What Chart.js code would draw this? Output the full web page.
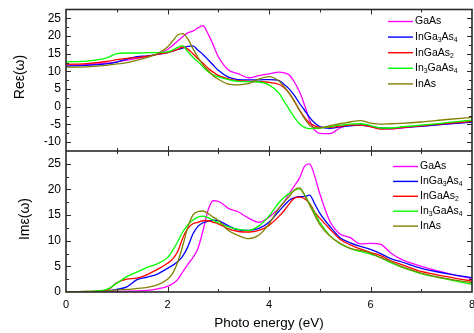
<!DOCTYPE html>
<html>
<head>
<meta charset="utf-8">
<script src="https://cdn.jsdelivr.net/npm/chart.js@4.4.1/dist/chart.umd.min.js"></script>
<style>
  html, body { margin: 0; padding: 0; background: #fff; }
  #wrap { position: relative; width: 474px; height: 333px; }
  #reChart { position: absolute; left: 0; top: 0; }
  #imChart { position: absolute; left: 0; top: 151px; }
</style>
</head>
<body>
<div id="wrap">
  <canvas id="reChart" width="474" height="151"></canvas>
  <canvas id="imChart" width="474" height="182"></canvas>
</div>
<script>
// photon energy grid (eV), shared by every series
const energy = [0, 0.4, 0.8, 1.0, 1.2, 1.4, 1.6, 1.8, 2.0, 2.1, 2.2, 2.3, 2.4, 2.5, 2.6, 2.7, 2.8, 2.9,
                3.0, 3.2, 3.4, 3.6, 3.8, 4.0, 4.2, 4.3, 4.4, 4.5, 4.6, 4.7, 4.8, 4.9,
                5.0, 5.2, 5.4, 5.6, 5.8, 6.0, 6.2, 6.4, 6.6, 7.0, 7.5, 8.0];

// legend names, "_" marks the next char as subscript
const seriesNames = ['GaAs', 'InGa_3As_4', 'InGaAs_2', 'In_3GaAs_4', 'InAs'];
const seriesColors = ['#ff00ff', '#0000ff', '#ff0000', '#00ff00', '#808000'];

// real part Re eps(w)
const reGaAs     = [11.8, 11.9, 12.3, 12.7, 13.2, 13.7, 14.2, 14.9, 16.2, 17.3, 18.6, 19.8, 20.9, 21.4, 22.3, 22.9, 20.6, 17.5,
                    14.2, 10.4, 9.3, 8.2, 8.8, 9.3, 9.8, 9.6, 9.0, 7.0, 4.3, 0.5, -3.8, -6.6,
                    -7.5, -7.6, -6.0, -5.1, -5.2, -5.6, -6.2, -6.3, -6.0, -5.4, -4.8, -4.3];
const reInGa3As4 = [11.5, 11.7, 12.1, 12.6, 13.5, 14.2, 14.4, 14.8, 15.3, 15.7, 16.2, 16.6, 17.1, 17.2, 16.0, 14.8, 13.3, 11.8,
                    10.3, 8.4, 7.7, 7.6, 7.6, 7.7, 7.4, 6.3, 5.0, 3.2, 1.0, -1.0, -3.0, -4.6,
                    -5.6, -6.1, -5.7, -5.4, -5.2, -5.5, -6.0, -6.1, -5.9, -5.5, -4.9, -4.3];
const reInGaAs2  = [12.0, 12.2, 12.8, 13.3, 13.7, 13.9, 14.3, 14.8, 15.3, 15.7, 16.2, 16.9, 16.3, 15.0, 13.6, 12.3, 10.9, 9.8,
                    8.9, 7.9, 7.4, 7.2, 7.1, 6.9, 6.3, 5.4, 3.8, 1.6, -0.9, -3.0, -4.6, -5.4,
                    -5.8, -5.8, -5.5, -5.2, -5.2, -5.6, -6.3, -6.2, -5.9, -5.4, -4.7, -4.1];
const reIn3GaAs4 = [12.7, 12.9, 13.8, 15.0, 15.2, 15.2, 15.3, 15.3, 15.5, 16.0, 16.8, 17.2, 15.6, 14.0, 12.7, 11.3, 9.9, 9.0,
                    8.5, 7.7, 7.2, 7.1, 7.0, 6.2, 3.8, 1.5, -0.8, -3.0, -4.8, -5.8, -6.2, -6.1,
                    -6.0, -5.6, -5.2, -4.9, -4.8, -5.3, -6.0, -6.0, -5.7, -5.2, -4.5, -3.8];
const reInAs     = [11.2, 11.3, 11.7, 12.1, 12.5, 13.2, 14.0, 15.0, 16.9, 18.6, 20.3, 20.7, 19.2, 16.5, 14.0, 11.8, 10.3, 8.8,
                    7.8, 6.4, 6.2, 6.6, 7.8, 8.5, 7.2, 5.6, 3.8, 1.5, -0.9, -3.3, -5.2, -5.9,
                    -6.0, -5.3, -4.8, -4.3, -3.9, -4.6, -4.9, -4.8, -4.7, -4.3, -3.6, -3.0];

// imaginary part Im eps(w)
const imGaAs     = [0, 0, 0.05, 0.1, 0.15, 0.2, 0.3, 0.6, 1.1, 1.6, 2.4, 3.9, 5.4, 6.7, 8.5, 12.0, 16.0, 17.8,
                    17.7, 16.3, 15.6, 14.4, 13.6, 14.6, 16.4, 17.6, 19.2, 20.7, 22.2, 24.5, 25.0, 22.6,
                    19.2, 13.8, 11.3, 10.6, 9.4, 9.5, 9.3, 7.6, 6.4, 5.0, 3.7, 2.6];
const imInGa3As4 = [0, 0.05, 0.2, 0.5, 1.0, 2.4, 2.9, 3.5, 4.6, 5.2, 5.9, 7.0, 8.8, 11.3, 12.8, 13.5, 13.8, 14.0,
                    13.9, 12.9, 12.1, 12.0, 12.4, 13.6, 15.8, 16.9, 17.9, 18.4, 18.6, 18.6, 18.9, 17.2,
                    15.4, 12.8, 10.6, 9.6, 8.9, 8.3, 7.5, 6.5, 5.9, 4.6, 3.6, 2.8];
const imInGaAs2  = [0, 0.1, 0.3, 1.8, 2.5, 2.7, 3.4, 4.4, 5.6, 6.4, 7.9, 10.5, 12.4, 13.3, 13.6, 13.9, 13.9, 13.6,
                    13.3, 12.3, 11.8, 11.7, 12.0, 13.0, 14.8, 15.9, 17.2, 18.3, 18.5, 18.2, 17.3, 15.6,
                    14.4, 12.3, 10.3, 9.2, 8.4, 7.7, 7.1, 6.1, 5.4, 4.0, 3.0, 2.1];
const imIn3GaAs4 = [0, 0.1, 0.5, 1.7, 3.0, 3.9, 4.8, 5.5, 6.7, 8.1, 9.8, 11.7, 13.1, 14.0, 14.6, 14.8, 14.5, 14.0,
                    13.5, 12.7, 12.2, 12.0, 12.9, 14.8, 17.5, 18.5, 19.2, 19.8, 20.1, 19.0, 17.1, 15.4,
                    13.6, 11.0, 9.4, 8.5, 7.9, 7.4, 6.7, 5.7, 4.9, 3.6, 2.5, 1.5];
const imInAs     = [0, 0.05, 0.2, 0.4, 0.5, 0.7, 0.9, 1.4, 2.5, 3.6, 5.8, 9.0, 12.6, 15.0, 15.7, 15.8, 15.3, 14.6,
                    14.0, 12.0, 11.0, 10.4, 11.1, 13.3, 16.4, 17.6, 18.6, 19.9, 20.3, 18.9, 17.0, 15.0,
                    13.2, 10.9, 9.5, 8.5, 8.1, 7.6, 6.7, 5.9, 5.0, 3.7, 2.6, 1.8];

// tick labels and tick marks
const xTickLabels = [0, 2, 4, 6, 8];
const xTickMarks  = [1, 2, 3, 4, 5, 6, 7];
const reTickLabels = [-10, -5, 0, 5, 10, 15, 20, 25];
const reTickMarks  = [-10, -7.5, -5, -2.5, 0, 2.5, 5, 7.5, 10, 12.5, 15, 17.5, 20, 22.5, 25];
const imTickLabels = [0, 5, 10, 15, 20, 25];
const imTickMarks  = [2.5, 5, 7.5, 10, 12.5, 15, 17.5, 20, 22.5, 25];

const FONT = "'Liberation Sans', Arial, sans-serif";

function drawRich(ctx, text, x, y, size) {
    let cx = x;
    for (let i = 0; i < text.length; i++) {
        let ch = text[i], dy = 0, s = size;
        if (ch === '_') { ch = text[++i]; dy = size * 0.3; s = size * 0.65; }
        ctx.font = s + 'px ' + FONT;
        ctx.fillText(ch, cx, y + dy);
        cx += ctx.measureText(ch).width;
    }
}

// frame, inward ticks, legend and titles
const framePlugin = {
    id: 'frame',
    afterDatasetsDraw(chart, args, o) {
        const ctx = chart.ctx, a = chart.chartArea;
        const x = chart.scales.x, y = chart.scales.y;
        const seg = (x1, y1, x2, y2) => { ctx.beginPath(); ctx.moveTo(x1, y1); ctx.lineTo(x2, y2); ctx.stroke(); };
        ctx.save();
        ctx.strokeStyle = '#2a2a2a';
        ctx.lineWidth = 1;
        xTickMarks.forEach(v => {
            const px = Math.round(x.getPixelForValue(v)) + 0.5;
            const len = v % 2 === 0 ? 5 : 3;
            seg(px, a.top, px, a.top + len);
            seg(px, a.bottom, px, a.bottom - len);
        });
        o.yMarks.forEach(v => {
            const py = Math.round(y.getPixelForValue(v)) + 0.5;
            const len = v % 5 === 0 ? 5 : 3;
            seg(a.left, py, a.left + len, py);
            seg(a.right, py, a.right - len, py);
        });
        ctx.lineWidth = 1.6;
        ctx.strokeRect(a.left, a.top, a.right - a.left, a.bottom - a.top);

        // legend
        ctx.textBaseline = 'middle';
        ctx.fillStyle = '#000';
        seriesNames.forEach((name, i) => {
            const ly = o.legendY + i * o.legendStep;
            ctx.strokeStyle = seriesColors[i];
            ctx.lineWidth = 1.4;
            seg(o.legendX, ly, o.legendX + 25, ly);
            drawRich(ctx, name, o.legendX + 27, ly, 10.5);
        });

        // y title
        ctx.font = '14px ' + FONT;
        ctx.textAlign = 'center';
        ctx.save();
        ctx.translate(o.titleX, o.titleY);
        ctx.rotate(-Math.PI / 2);
        ctx.fillText(o.title, 0, 0);
        ctx.restore();

        // x title
        if (o.xTitle) {
            ctx.font = '13.5px ' + FONT;
            ctx.fillText(o.xTitle, (a.left + a.right) / 2, o.xTitleY);
        }
        ctx.restore();
    }
};

function makeChart(canvasId, series, yMin, yMax, yLabels, showX, frame, padTop) {
    return new Chart(document.getElementById(canvasId), {
        type: 'line',
        data: {
            datasets: series.map((vals, i) => ({
                label: seriesNames[i],
                data: energy.map((e, j) => ({ x: e, y: vals[j] })),
                borderColor: seriesColors[i],
                borderWidth: 1.3,
                pointRadius: 0,
                cubicInterpolationMode: 'monotone',
                order: series.length - i
            }))
        },
        options: {
            responsive: false,
            animation: false,
            events: [],
            layout: { autoPadding: false, padding: { top: padTop, right: 2, left: 0, bottom: 0 } },
            plugins: { legend: { display: false }, tooltip: { enabled: false }, frame: frame },
            scales: {
                x: {
                    type: 'linear', min: 0, max: 8,
                    display: showX,
                    afterBuildTicks: s => { s.ticks = xTickLabels.map(v => ({ value: v })); },
                    afterFit: s => {
                        if (showX) s.height = 41;
                        s.paddingLeft = 0; s.paddingRight = 0;
                    },
                    grid: { display: false, drawTicks: false },
                    border: { display: false },
                    ticks: { color: '#000', font: { family: FONT, size: 11 }, padding: 6, maxRotation: 0 }
                },
                y: {
                    type: 'linear', min: yMin, max: yMax,
                    afterBuildTicks: s => { s.ticks = yLabels.map(v => ({ value: v })); },
                    afterFit: s => {
                        s.width = 66;
                        s.paddingTop = 0; s.paddingBottom = 0;
                    },
                    grid: { display: false, drawTicks: false },
                    border: { display: false },
                    ticks: { color: '#000', font: { family: FONT, size: 12 }, padding: 5 }
                }
            }
        },
        plugins: [framePlugin]
    });
}

makeChart('reChart', [reGaAs, reInGa3As4, reInGaAs2, reIn3GaAs4, reInAs], -12.5, 27.5, reTickLabels, false, {
    yMarks: reTickMarks, legendX: 388, legendY: 21.5, legendStep: 15.6,
    title: 'Reε(ω)', titleX: 20, titleY: 77
}, 9.5);

makeChart('imChart', [imGaAs, imInGa3As4, imInGaAs2, imIn3GaAs4, imInAs], 0, 27.5, imTickLabels, true, {
    yMarks: imTickMarks, legendX: 393, legendY: 15.5, legendStep: 14.9,
    title: 'Imε(ω)', titleX: 25, titleY: 68,
    xTitle: 'Photo energy (eV)', xTitleY: 172.5
}, 0);
</script>
</body>
</html>
